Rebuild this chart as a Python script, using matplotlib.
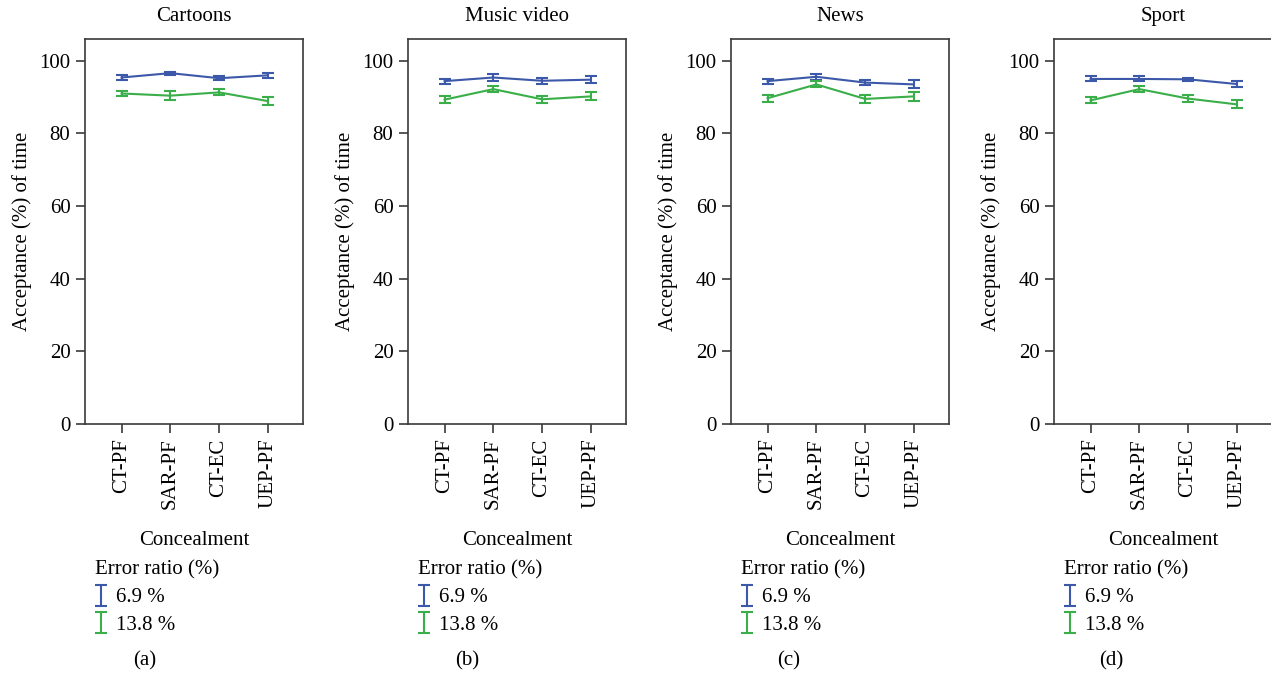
import matplotlib
matplotlib.use('Agg')
import matplotlib.pyplot as plt

plt.rcParams['font.family'] = ['Liberation Serif', 'DejaVu Serif']

# acceptance (%) per concealment method, two error ratios, four video genres
genres = ['Cartoons', 'Music video', 'News', 'Sport']
panel_tags = ['(a)', '(b)', '(c)', '(d)']
methods = ['CT-PF', 'SAR-PF', 'CT-EC', 'UEP-PF']
ratio_labels = ['6.9 %', '13.8 %']

low_mean = [
    [95.4, 96.6, 95.2, 96.0],
    [94.4, 95.4, 94.5, 94.8],
    [94.4, 95.6, 94.0, 93.5],
    [95.0, 95.0, 94.9, 93.6],
]
low_err = [
    [0.6, 0.4, 0.5, 0.7],
    [0.7, 1.0, 0.9, 1.0],
    [0.7, 0.9, 0.8, 1.1],
    [0.7, 0.7, 0.5, 0.7],
]
high_mean = [
    [91.0, 90.4, 91.3, 88.9],
    [89.3, 92.2, 89.4, 90.2],
    [89.7, 93.5, 89.5, 90.2],
    [89.1, 92.2, 89.6, 88.0],
]
high_err = [
    [0.8, 1.3, 0.8, 1.2],
    [0.9, 0.9, 0.9, 1.1],
    [1.0, 0.8, 1.0, 1.2],
    [0.8, 0.8, 0.9, 1.1],
]

colors = ['#3c58a8', '#3aae48']
edge = '#3a3a3a'
fs = 15
W, H = 1271, 673

fig = plt.figure(figsize=(W / 100, H / 100), dpi=100)

x = list(range(1, len(methods) + 1))
for i, genre in enumerate(genres):
    left = 85 + 323 * i
    ax = fig.add_axes([left / W, (H - 424) / H, 218 / W, 385 / H])

    series = [(low_mean[i], low_err[i]), (high_mean[i], high_err[i])]
    for (m, e), c, lab in zip(series, colors, ratio_labels):
        ax.plot(x, m, color=c, lw=1.5)
        ax.errorbar(x, m, yerr=e, fmt='none', ecolor=c, elinewidth=1.5,
                    capsize=4, capthick=1.5, label=lab)

    ax.set_xlim(0.25, 4.72)
    ax.set_ylim(0, 106)
    ax.set_yticks([0, 20, 40, 60, 80, 100])
    ax.set_xticks(x)
    ax.set_xticklabels(methods, rotation=90, fontsize=fs)
    ax.tick_params(axis='y', labelsize=fs, length=6.5, width=1.2,
                   color=edge, pad=4)
    ax.tick_params(axis='x', length=6.5, width=1.2, color=edge, pad=4)
    for s in ax.spines.values():
        s.set_color(edge)
        s.set_linewidth(1.2)

    ax.set_title(genre, fontsize=fs, pad=13)
    ax.set_ylabel('Acceptance (%) of time', fontsize=fs)
    ax.yaxis.set_label_coords(-0.245, 0.5)
    ax.set_xlabel('Concealment', fontsize=fs)
    ax.xaxis.set_label_coords(0.5, -0.278)

    leg = ax.legend(title='Error ratio (%)', loc='upper left',
                    bbox_to_anchor=(0.045, -0.355), frameon=False,
                    fontsize=fs, title_fontsize=fs, alignment='left',
                    handlelength=0.6, handletextpad=0.4, labelspacing=0.38,
                    borderpad=0, borderaxespad=0)

    fig.text((145 + 322 * i) / W, 1 - 661 / H, panel_tags[i],
             ha='center', va='center', fontsize=fs)

fig.savefig('out.png', dpi=100)
